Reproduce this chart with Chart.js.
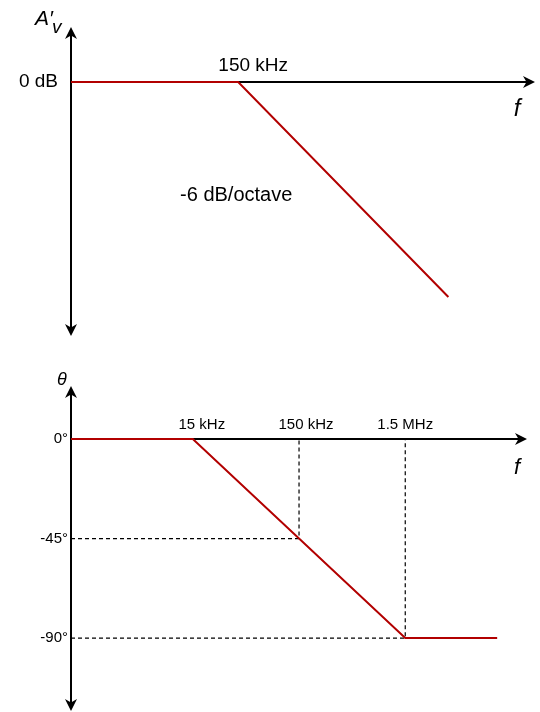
<!DOCTYPE html>
<html>
<head>
<meta charset="utf-8">
<script src="https://cdn.jsdelivr.net/npm/chart.js@4/dist/chart.umd.min.js"></script>
<style>
html, body { margin: 0; padding: 0; background: #fff; }
#wrap { position: relative; width: 540px; height: 712px; }
canvas { position: absolute; left: 0; }
</style>
</head>
<body>
<div id="wrap">
  <canvas id="gain" width="540" height="356" style="top:0"></canvas>
  <canvas id="phase" width="540" height="356" style="top:356px"></canvas>
</div>
<script>
// frecuencias en kHz
const gainFreqs = [3.85, 150, 15000];
const gainValues = [0, 0, -40];
const gainTickLabels = ['0 dB'];
const gainCornerLabel = '150 kHz';
const gainSlopeLabel = '-6 dB/octave';

const phaseFreqs = [1.07, 15, 1500, 11000];
const phaseValues = [0, 0, -90, -90];
const phaseTicks = [0, -45, -90];
const phaseTickLabels = ['0°', '-45°', '-90°'];
const phaseMarkFreqs = [15, 150, 1500];
const phaseMarkLabels = ['15 kHz', '150 kHz', '1.5 MHz'];

const RED = '#b20000';
const FONT = '"Liberation Sans", Arial, Helvetica, sans-serif';

function toPoints(xs, ys) {
    return xs.map((x, i) => ({ x, y: ys[i] }));
}

function drawArrow(ctx, x, y, angle) {
    const L = 12, W = 6;
    ctx.save();
    ctx.translate(x, y);
    ctx.rotate(angle);
    ctx.beginPath();
    ctx.moveTo(0, 0);
    ctx.lineTo(-L, -W);
    ctx.lineTo(-L + 3.5, 0);
    ctx.lineTo(-L, W);
    ctx.closePath();
    ctx.fillStyle = '#000';
    ctx.fill();
    ctx.restore();
}

// ejes con flechas, debajo de las curvas
const axesPlugin = {
    id: 'arrowAxes',
    beforeDatasetsDraw(chart) {
        const { ctx, chartArea, scales } = chart;
        const x0 = chartArea.left;
        const y0 = scales.y.getPixelForValue(0);
        ctx.save();
        ctx.strokeStyle = '#000';
        ctx.lineWidth = 2;
        ctx.beginPath();
        ctx.moveTo(x0, chartArea.top + 8);
        ctx.lineTo(x0, chartArea.bottom - 8);
        ctx.moveTo(x0, y0);
        ctx.lineTo(chartArea.right - 8, y0);
        ctx.stroke();
        drawArrow(ctx, x0, chartArea.top, -Math.PI / 2);
        drawArrow(ctx, x0, chartArea.bottom, Math.PI / 2);
        drawArrow(ctx, chartArea.right, y0, 0);
        ctx.restore();
    }
};

function text(ctx, str, x, y, font, align) {
    ctx.font = font;
    ctx.textAlign = align || 'center';
    ctx.textBaseline = 'middle';
    ctx.fillStyle = '#000';
    ctx.fillText(str, x, y);
}

const gainLabels = {
    id: 'gainLabels',
    afterDraw(chart) {
        const { ctx, chartArea, scales } = chart;
        const y0 = scales.y.getPixelForValue(0);
        ctx.save();
        text(ctx, gainTickLabels[0], chartArea.left - 13, y0, '19px ' + FONT, 'right');
        text(ctx, gainCornerLabel, scales.x.getPixelForValue(gainFreqs[1]) + 15, y0 - 16, '19px ' + FONT);
        text(ctx, gainSlopeLabel, scales.x.getPixelForValue(gainFreqs[1]) - 2, scales.y.getPixelForValue(-21.2), '20px ' + FONT);
        text(ctx, 'f', chartArea.right - 18, y0 + 27, 'italic 24px ' + FONT);
        // A'v
        text(ctx, 'A′', 35, 19, 'italic 21px ' + FONT, 'left');
        text(ctx, 'v', 52, 28, 'italic 19px ' + FONT, 'left');
        ctx.restore();
    }
};

const MARK_OFFSETS = [9, 7, 0];

const phaseLabels = {
    id: 'phaseLabels',
    afterDraw(chart) {
        const { ctx, chartArea, scales } = chart;
        const y0 = scales.y.getPixelForValue(0);
        ctx.save();
        phaseTicks.forEach((t, i) => {
            text(ctx, phaseTickLabels[i], chartArea.left - 3, scales.y.getPixelForValue(t), '15px ' + FONT, 'right');
        });
        phaseMarkFreqs.forEach((f, i) => {
            text(ctx, phaseMarkLabels[i], scales.x.getPixelForValue(f) + MARK_OFFSETS[i], y0 - 14, '15px ' + FONT);
        });
        text(ctx, 'f', chartArea.right - 10, y0 + 29, 'italic 22px ' + FONT);
        text(ctx, 'θ', 62, chartArea.top - 6, 'italic 18px ' + FONT);
        ctx.restore();
    }
};

const lineDefaults = {
    pointRadius: 0,
    fill: false,
    tension: 0,
    clip: false,
};

new Chart(document.getElementById('gain').getContext('2d'), {
    type: 'line',
    data: {
        datasets: [{
            ...lineDefaults,
            data: toPoints(gainFreqs, gainValues),
            borderColor: RED,
            borderWidth: 2,
        }]
    },
    options: {
        responsive: false,
        devicePixelRatio: 1,
        animation: false,
        layout: { padding: { left: 71, right: 5, top: 27, bottom: 20 } },
        plugins: { legend: { display: false }, tooltip: { enabled: false } },
        scales: {
            x: { type: 'logarithmic', min: 3.85, max: 100000, display: false },
            y: { type: 'linear', min: -47.26, max: 10.23, display: false }
        }
    },
    plugins: [axesPlugin, gainLabels]
});

const guide45 = [
    { x: phaseFreqs[0], y: phaseTicks[1] },
    { x: phaseMarkFreqs[1], y: phaseTicks[1] },
    { x: phaseMarkFreqs[1], y: phaseTicks[0] }
];
const guide90 = [
    { x: phaseFreqs[0], y: phaseTicks[2] },
    { x: phaseMarkFreqs[2], y: phaseTicks[2] },
    { x: phaseMarkFreqs[2], y: phaseTicks[0] }
];

new Chart(document.getElementById('phase').getContext('2d'), {
    type: 'line',
    data: {
        datasets: [
            { ...lineDefaults, data: toPoints(phaseFreqs, phaseValues), borderColor: RED, borderWidth: 2, order: 0 },
            { ...lineDefaults, data: guide45, borderColor: '#000', borderWidth: 1.2, borderDash: [4, 3], order: 1 },
            { ...lineDefaults, data: guide90, borderColor: '#000', borderWidth: 1.2, borderDash: [4, 3], order: 2 },
        ]
    },
    options: {
        responsive: false,
        devicePixelRatio: 1,
        animation: false,
        layout: { padding: { left: 71, right: 13, top: 30, bottom: 1 } },
        plugins: { legend: { display: false }, tooltip: { enabled: false } },
        scales: {
            x: { type: 'logarithmic', min: 1.07, max: 21000, display: false },
            y: { type: 'linear', min: -123, max: 24, display: false }
        }
    },
    plugins: [axesPlugin, phaseLabels]
});
</script>
</body>
</html>
